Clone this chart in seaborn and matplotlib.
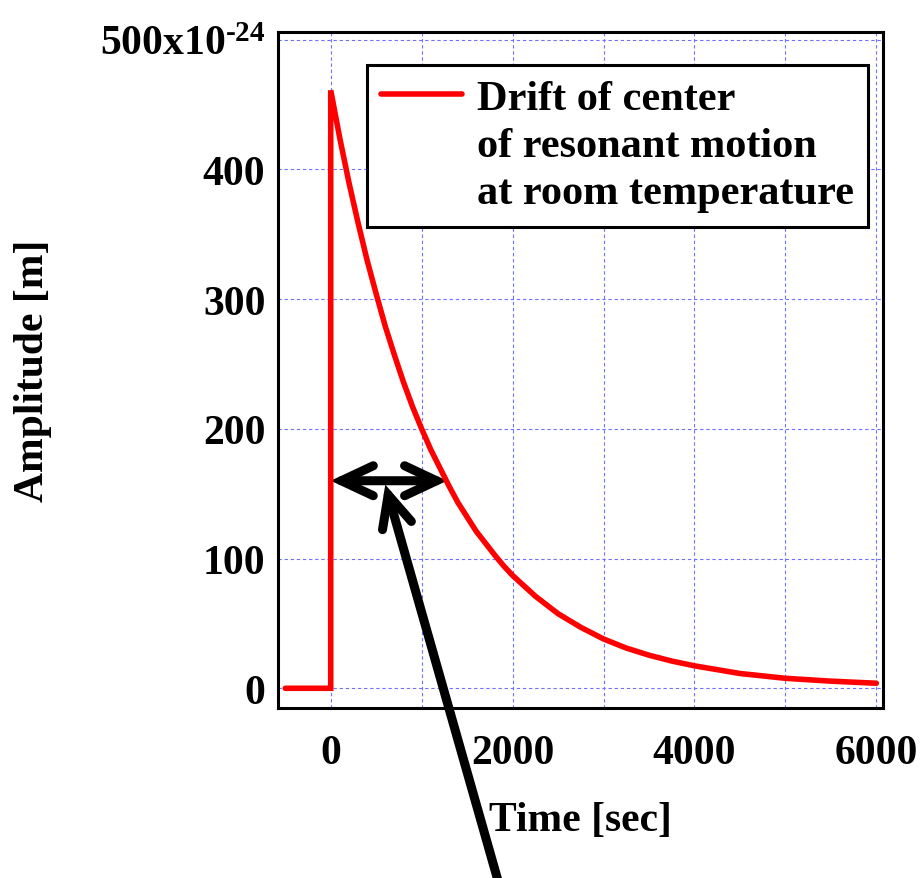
import numpy as np
import pandas as pd
import matplotlib
matplotlib.use("Agg")
import matplotlib.pyplot as plt
import seaborn as sns
from matplotlib.lines import Line2D
from matplotlib.ticker import FixedLocator

# Drift of the resonant-motion center, amplitude in units of 1e-24 m
time_sec = [-500, 0, 0, 100, 200, 300, 400, 500, 600, 700, 800, 900, 1000,
            1100, 1200, 1300, 1400, 1500, 1600, 1700, 1800, 1900, 2000,
            2250, 2500, 2750, 3000, 3250, 3500, 3750, 4000, 4500, 5000,
            5500, 6000]
amplitude = [0, 0, 461, 424, 390, 359, 330, 304, 279, 257, 236, 217, 200,
             184, 170, 156, 143, 132, 121, 112, 103, 94.5, 87,
             71, 57.5, 47, 38, 31, 25.5, 21, 17.3, 11.4, 7.7,
             5.5, 3.9]

x_major = [0, 2000, 4000, 6000]
x_minor = [1000, 3000, 5000]
y_major = [0, 100, 200, 300, 400, 500]
y_labels = ["0", "100", "200", "300", "400", r"500x10$^{\text{-24}}$"]

legend_lines = ["Drift of center", "of resonant motion", "at room temperature"]

# decay-time span marked with a double arrow
span_start, span_end, span_level = 0, 1280, 160
pointer_at = (600, 157)

sns.set_style("white")
plt.rcParams["font.family"] = ["Liberation Serif", "DejaVu Serif"]
plt.rcParams["font.weight"] = "bold"
plt.rcParams["text.color"] = "black"
plt.rcParams["axes.labelcolor"] = "black"
plt.rcParams["xtick.color"] = "black"
plt.rcParams["ytick.color"] = "black"
plt.rcParams["mathtext.fontset"] = "custom"
plt.rcParams["mathtext.rm"] = "Liberation Serif:bold"
plt.rcParams["mathtext.it"] = "Liberation Serif:bold"
plt.rcParams["mathtext.bf"] = "Liberation Serif:bold"
plt.rcParams["mathtext.default"] = "rm"

df = pd.DataFrame({"time": time_sec, "amp": amplitude})

fig = plt.figure(figsize=(9.22, 8.79), dpi=100)
ax = fig.add_axes([0.3015, 0.1934, 0.6559, 0.7687])

sns.lineplot(data=df, x="time", y="amp", sort=False, estimator=None,
             color="red", lw=4, ax=ax, legend=False, zorder=3)
ax.lines[0].set_solid_joinstyle("miter")

ax.set_xlim(-580, 6070)
ax.set_ylim(-15.2, 505.7)

ax.xaxis.set_major_locator(FixedLocator(x_major))
ax.xaxis.set_minor_locator(FixedLocator(x_minor))
ax.set_xticklabels([str(v) for v in x_major])
ax.yaxis.set_major_locator(FixedLocator(y_major))
ax.set_yticklabels(y_labels)

ax.tick_params(axis="both", which="major", direction="in", length=14, width=2,
               colors="black", labelsize=30, top=False, right=False)
ax.tick_params(axis="x", which="minor", direction="in", length=8, width=2,
               top=False)
ax.tick_params(axis="x", which="major", pad=19)
ax.tick_params(axis="y", which="major", pad=9)

for sp in ax.spines.values():
    sp.set_visible(True)
    sp.set_color("black")
    sp.set_linewidth(2.2)

grid_kw = dict(color="#7070ff", lw=0.8, linestyle=(0, (3, 2.5)))
ax.grid(True, which="major", axis="y", **grid_kw)
ax.grid(True, which="both", axis="x", **grid_kw)
ax.set_axisbelow(True)

ax.set_xlabel("Time [sec]", fontsize=30, fontweight="bold")
ax.xaxis.set_label_coords(0.5, -0.1376)
ax.set_ylabel("Amplitude [m]", fontsize=30, fontweight="bold")
ax.yaxis.set_label_coords(-0.373, 0.5)

handles = [Line2D([], [], color="red", lw=4, solid_capstyle="round"),
           Line2D([], [], color="none"),
           Line2D([], [], color="none")]
leg = ax.legend(handles, legend_lines, loc="upper right",
                bbox_to_anchor=(0.9757, 0.9516), borderaxespad=0,
                frameon=True, fancybox=False, edgecolor="black", framealpha=1,
                fontsize=30.5, handlelength=1.9, handletextpad=0.35,
                labelspacing=0.2, borderpad=0.34)
leg.get_frame().set_linewidth(2.2)

head = "head_length=1.15,head_width=0.54"
arrow_kw = dict(lw=6.5, color="black", shrinkA=0, shrinkB=0,
                mutation_scale=20, capstyle="round", joinstyle="miter")
ax.annotate("", xy=(span_end, span_level), xytext=(span_start, span_level),
            arrowprops=dict(arrowstyle="<->," + head, **arrow_kw),
            zorder=2)
ax.annotate("", xy=pointer_at, xycoords="data",
            xytext=(0.5412, -0.007), textcoords="figure fraction",
            arrowprops=dict(arrowstyle="->," + head, **arrow_kw),
            annotation_clip=False, zorder=2)

fig.savefig("out.png", dpi=100)
